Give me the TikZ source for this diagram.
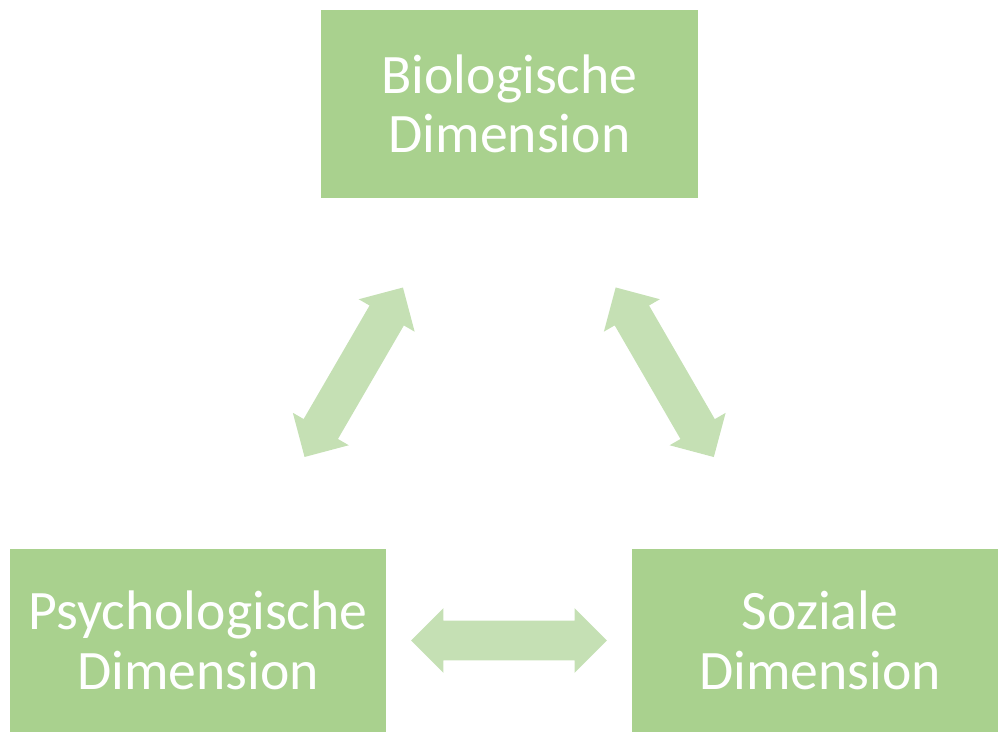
\documentclass[tikz,border=0pt]{standalone}
\usepackage{fontspec}
\setmainfont{Carlito}
\usetikzlibrary{shapes.arrows}
\definecolor{boxgreen}{HTML}{A9D18E}
\definecolor{arrowgreen}{HTML}{C5E0B4}
\tikzset{
	x=0.02cm, y=-0.02cm, % one unit is one pixel of the layout
	dimbox/.style={fill=boxgreen, text=white, align=center, inner sep=0pt,
		font=\fontsize{31.7}{34}\selectfont}, % the three dimension boxes
	link/.style={double arrow, fill=arrowgreen, inner xsep=0pt, inner ysep=0.39cm,
		minimum height=3.92cm,
		double arrow head extend=0.25cm, double arrow tip angle=90}, % block arrows
}

\begin{document}
\begin{tikzpicture}
	\useasboundingbox (0,0) rectangle (998,733);
	\clip (0,0) rectangle (998,733);
	\node[dimbox, minimum width=7.54cm, minimum height=3.76cm] (bio) at (509.5,104) {Biologische\\Dimension};
	\node[dimbox, minimum width=7.52cm, minimum height=3.66cm] (psy) at (198,640.5) {Psychologische\\Dimension};
	\node[dimbox, minimum width=7.52cm, minimum height=3.66cm] (soz) at (820,640.5) {Soziale\\Dimension};
	\path (psy.center) -- node[link, sloped] (bp) {} (bio.center)
		(bio.center) -- node[link, sloped] (bs) {} (soz.center)
		(psy.center) -- node[link, sloped] (ps) {} (soz.center);
\end{tikzpicture}
\end{document}
